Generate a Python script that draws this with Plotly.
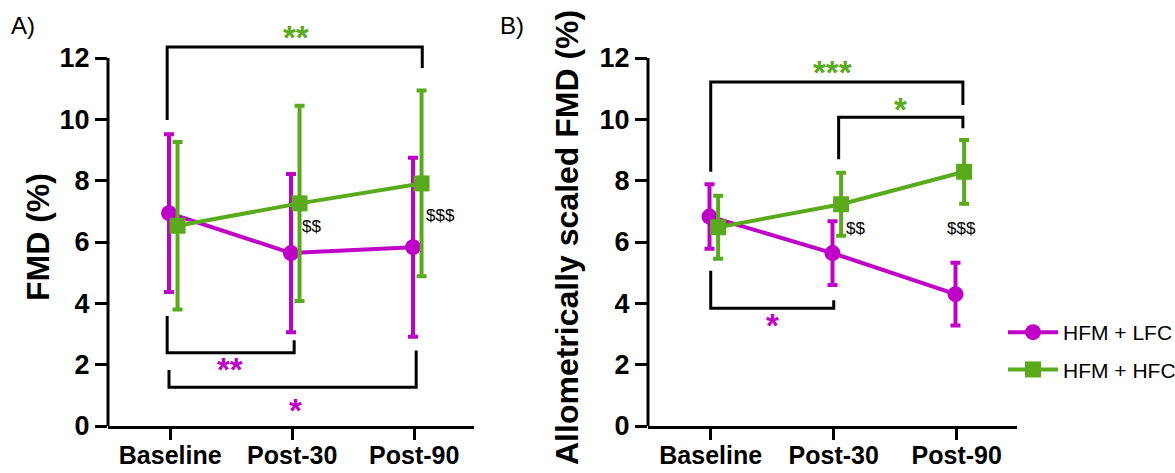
import plotly.graph_objects as go

# ---------------- data ----------------
categories = ["Baseline", "Post-30", "Post-90"]
y_ticks = [0, 2, 4, 6, 8, 10, 12]
series_names = ["HFM + LFC", "HFM + HFC"]

# Panel A: FMD (%)  (mean, SD)
fmd_lfc_mean = [6.94, 5.64, 5.83]
fmd_lfc_sd = [2.57, 2.58, 2.92]
fmd_hfc_mean = [6.53, 7.26, 7.91]
fmd_hfc_sd = [2.73, 3.18, 3.03]

# Panel B: Allometrically scaled FMD (%)
allo_lfc_mean = [6.83, 5.64, 4.30]
allo_lfc_sd = [1.05, 1.04, 1.02]
allo_hfc_mean = [6.48, 7.23, 8.29]
allo_hfc_sd = [1.03, 1.03, 1.04]

# significance brackets: (x_left, x_right, y_bar, y_left_end, y_right_end)
brackets_a = [(-0.025, 2.066, 12.36, 9.98, 11.67),
              (-0.025, 1.016, 2.39, 3.59, 2.80),
              (-0.010, 2.016, 1.26, 1.83, 2.46)]
brackets_b = [(0.0, 2.05, 11.22, 8.29, 10.47),
              (1.04, 2.05, 10.07, 8.70, 9.71),
              (0.0, 1.00, 3.84, 5.06, 4.10)]
# star labels: (text, x, y, series index)
stars_a = [("**", 1.03, 12.80, 1), ("**", 0.49, 1.97, 0), ("*", 1.03, 0.64, 0)]
stars_b = [("***", 0.99, 11.67, 1), ("*", 1.54, 10.45, 1), ("*", 0.50, 3.42, 0)]
# between-group labels: (text, x, y)
dollars_a = [("$$", 1.156, 6.50), ("$$$", 2.213, 6.88)]
dollars_b = [("$$", 1.18, 6.45), ("$$$", 2.04, 6.45)]

# ---------------- style ----------------
MAG = "#BF00C6"
GRN = "#5AAA1E"
COLORS = [MAG, GRN]
SYMBOLS = ["circle", "square"]
OFFSETS = [-0.01, 0.06]
FONT = "Liberation Sans, Arial, sans-serif"
XR = [-0.51, 2.49]
YTOP = 13.0
YMAX = 12

fig = go.Figure()

panels = [
    ("x", "y", [(fmd_lfc_mean, fmd_lfc_sd), (fmd_hfc_mean, fmd_hfc_sd)], False),
    ("x2", "y2", [(allo_lfc_mean, allo_lfc_sd), (allo_hfc_mean, allo_hfc_sd)], True),
]
for xa, ya, series, show in panels:
    for k, (mean, sd) in enumerate(series):
        fig.add_trace(go.Scatter(
            x=[i + OFFSETS[k] for i in range(len(categories))],
            y=mean,
            mode="lines+markers",
            name=series_names[k],
            legendgroup=series_names[k],
            showlegend=show,
            line=dict(color=COLORS[k], width=4),
            marker=dict(color=COLORS[k], size=16, symbol=SYMBOLS[k]),
            error_y=dict(type="data", array=sd, visible=True, color=COLORS[k],
                         thickness=4, width=5),
            xaxis=xa, yaxis=ya, cliponaxis=False,
        ))

shapes = []
annotations = []
for xr, yr, brs, sts, dls in [("x", "y", brackets_a, stars_a, dollars_a),
                              ("x2", "y2", brackets_b, stars_b, dollars_b)]:
    for (x0, x1, yb, yl, yrr) in brs:
        shapes.append(dict(type="path", xref=xr, yref=yr,
                           path=f"M {x0},{yl} L {x0},{yb} L {x1},{yb} L {x1},{yrr}",
                           line=dict(color="black", width=3)))
    for (t, x, y, k) in sts:
        annotations.append(dict(text=t, x=x, y=y, xref=xr, yref=yr, showarrow=False,
                                xanchor="center", yanchor="middle", yshift=-4,
                                font=dict(family=FONT, size=33, color=COLORS[k], weight="bold")))
    for (t, x, y) in dls:
        annotations.append(dict(text=t, x=x, y=y, xref=xr, yref=yr, showarrow=False,
                                xanchor="center", yanchor="middle",
                                font=dict(family=FONT, size=17, color="black")))
    # y axis line from 0 to 12 only
    shapes.append(dict(type="line", xref=xr + " domain", yref=yr + " domain",
                       x0=0, x1=0, y0=0, y1=YMAX / YTOP,
                       xsizemode="pixel", xanchor=0,
                       line=dict(color="black", width=3)))

# panel letters and axis titles
paper_txt = dict(xref="paper", yref="paper", showarrow=False, xanchor="center", yanchor="middle")
annotations += [
    dict(text="A)", x=23 / 1175, y=1 - 25 / 473,
         font=dict(family=FONT, size=24, color="black"), **paper_txt),
    dict(text="B)", x=512 / 1175, y=1 - 25 / 473,
         font=dict(family=FONT, size=24, color="black"), **paper_txt),
    dict(text="FMD (%)", x=38 / 1175, y=1 - 237 / 473, textangle=-90,
         font=dict(family=FONT, size=32, color="black", weight="bold"), **paper_txt),
    dict(text="Allometrically scaled FMD (%)", x=567 / 1175, y=1 - 238 / 473, textangle=-90,
         font=dict(family=FONT, size=32, color="black", weight="bold"), **paper_txt),
]

xaxis_common = dict(range=XR, tickvals=list(range(len(categories))), ticktext=categories,
                    showline=True, linecolor="black", linewidth=3, ticks="outside",
                    ticklen=11, tickwidth=3, tickcolor="black", showgrid=False, zeroline=False,
                    ticklabelstandoff=-6,
                    tickfont=dict(family=FONT, size=25, color="black", weight="bold"))
yaxis_common = dict(range=[0, YTOP], tickvals=y_ticks, showline=False, ticks="outside",
                    ticklen=12, tickwidth=3, tickcolor="black", showgrid=False, zeroline=False,
                    tickfont=dict(family=FONT, size=27, color="black", weight="bold"))

ydom = [47 / 473, 1 - 27.33 / 473]
fig.update_layout(
    width=1175, height=473,
    margin=dict(l=0, r=0, t=0, b=0, autoexpand=False),
    paper_bgcolor="white", plot_bgcolor="white",
    xaxis=dict(domain=[108 / 1175, 474 / 1175], anchor="y", **xaxis_common),
    yaxis=dict(domain=ydom, anchor="x", **yaxis_common),
    xaxis2=dict(domain=[648 / 1175, 1017 / 1175], anchor="y2", **xaxis_common),
    yaxis2=dict(domain=ydom, anchor="x2", **yaxis_common),
    shapes=shapes,
    annotations=annotations,
    showlegend=True,
    legend=dict(x=1003 / 1175, y=1 - 312 / 473, xanchor="left", yanchor="top",
                font=dict(family=FONT, size=21, color="black"), itemwidth=50,
                tracegroupgap=7, bgcolor="rgba(0,0,0,0)"),
)

fig.write_html("out.html", config={"displayModeBar": False},
               post_script="document.body.style.margin='0';")
